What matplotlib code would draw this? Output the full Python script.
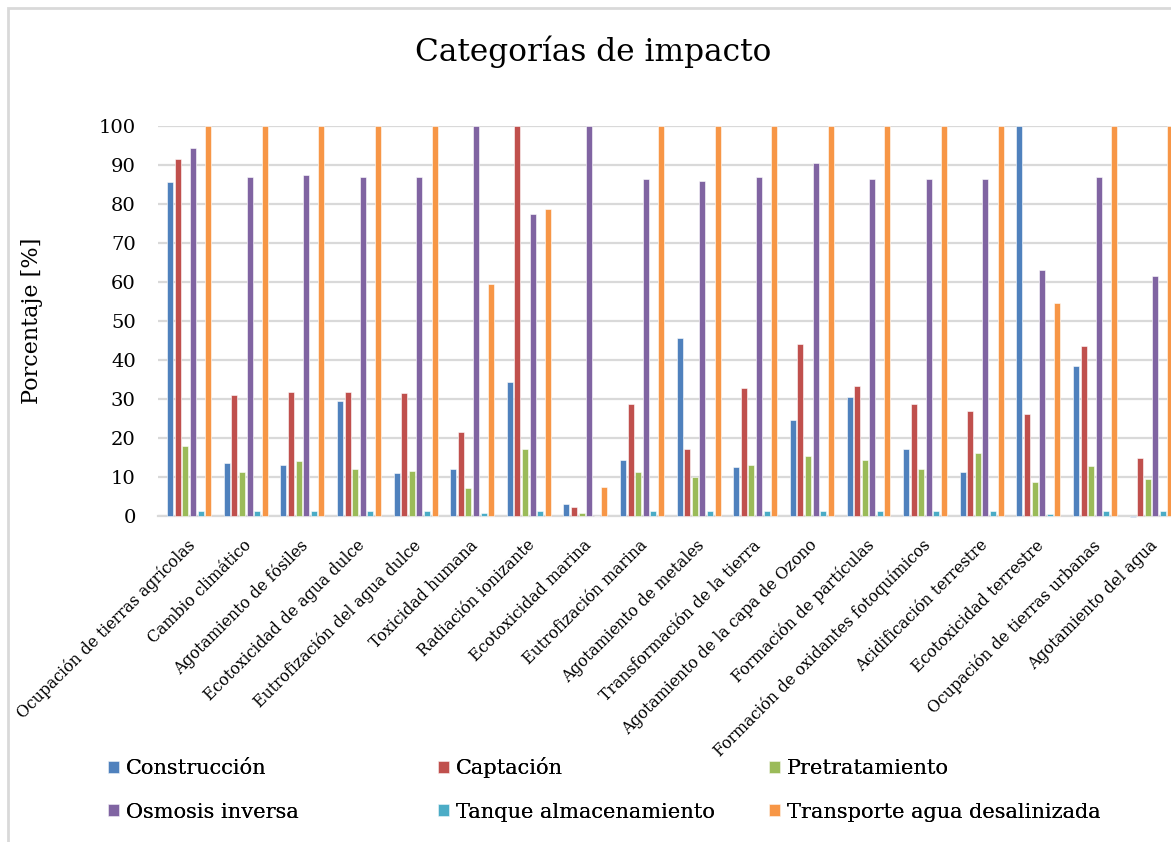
import numpy as np
import matplotlib
matplotlib.use('Agg')
import matplotlib.pyplot as plt
from matplotlib.patches import Rectangle

categorias = ['Ocupación de tierras agrícolas', 'Cambio climático', 'Agotamiento de fósiles',
              'Ecotoxicidad de agua dulce', 'Eutrofización del agua dulce', 'Toxicidad humana',
              'Radiación ionizante', 'Ecotoxicidad marina', 'Eutrofización marina',
              'Agotamiento de metales', 'Transformación de la tierra',
              'Agotamiento de la capa de Ozono', 'Formación de partículas',
              'Formación de oxidantes fotoquímicos', 'Acidificación terrestre',
              'Ecotoxicidad terrestre', 'Ocupación de tierras urbanas', 'Agotamiento del agua']

construccion = [85.6, 13.7, 13.2, 29.6, 11.1, 12.0, 34.4, 3.2, 14.3, 45.7, 12.6, 24.5,
                30.5, 17.3, 11.2, 100, 38.4, -0.3]
captacion = [91.5, 31.1, 31.7, 31.7, 31.5, 21.5, 100, 2.4, 28.6, 17.3, 32.7, 44.0,
             33.4, 28.8, 27.0, 26.2, 43.7, 15.0]
pretratamiento = [17.9, 11.2, 14.1, 12.1, 11.5, 7.1, 17.3, 0.8, 11.2, 9.9, 13.1, 15.3,
                  14.4, 12.1, 16.2, 8.6, 12.9, 9.5]
osmosis = [94.4, 87.0, 87.5, 87.0, 86.8, 100, 77.5, 100, 86.3, 85.9, 86.9, 90.4,
           86.4, 86.5, 86.5, 63.0, 86.8, 61.5]
tanque = [1.4, 1.3, 1.3, 1.3, 1.3, 0.8, 1.2, 0.1, 1.3, 1.3, 1.3, 1.3,
          1.3, 1.3, 1.3, 0.6, 1.3, 1.3]
transporte = [100, 100, 100, 100, 100, 59.6, 78.7, 7.4, 100, 100, 100, 100,
              100, 100, 100, 54.7, 100, 100]

series = ['Construcción', 'Captación', 'Pretratamiento', 'Osmosis inversa',
          'Tanque almacenamiento', 'Transporte agua desalinizada']
valores = [construccion, captacion, pretratamiento, osmosis, tanque, transporte]
colores = ['#4F81BD', '#C0504D', '#9BBB59', '#8064A2', '#4BACC6', '#F79646']

plt.rcParams['font.family'] = ['DejaVu Serif']

fig = plt.figure(figsize=(11.71, 8.42), dpi=100)
ax = fig.add_axes([158/1171, 1-516/842, 1019/1171, 390/842])

x = np.arange(len(categorias))
paso = 0.134
ancho = 0.106
barras = []
for i, (nombre, vals, col) in enumerate(zip(series, valores, colores)):
    b = ax.bar(x + (i - 2.5) * paso + 0.05, vals, width=ancho, color=col,
               edgecolor='white', linewidth=0.4, label=nombre, zorder=3, clip_on=False)
    barras.append(b)

ax.set_xlim(-0.5, len(categorias) - 0.5)
ax.set_ylim(0, 100)
ax.set_yticks(range(0, 101, 10))
ax.yaxis.grid(True, color='#d9d9d9', linewidth=1.6, zorder=0)
ax.set_axisbelow(True)
for s in ['top', 'right', 'left']:
    ax.spines[s].set_visible(False)
ax.spines['bottom'].set_color('#d9d9d9')
ax.spines['bottom'].set_linewidth(1.6)
ax.tick_params(axis='both', length=0)
ax.tick_params(axis='y', labelsize=14, pad=16)
ax.set_xticks(x)
ax.set_xticklabels(categorias, rotation=45, ha='right', rotation_mode='anchor', fontsize=11.3)
ax.tick_params(axis='x', pad=15)
ax.set_ylabel('Porcentaje [%]', fontsize=16, labelpad=40)

fig.text(593/1171, 1-52/842, 'Categorías de impacto', ha='center', va='center', fontsize=22.5)

# marco del área del gráfico
fig.patches.append(Rectangle((8/1171, -0.1), 1.2, 1-8/842+0.1, transform=fig.transFigure,
                             fill=False, edgecolor='#d9d9d9', linewidth=2))

# leyenda: 3 columnas x 2 filas, alineadas por la línea base del texto
col_x = [108/1171, 438/1171, 769/1171]
fila_y = [1-769/842, 1-812/842]
leyendas = []
for k in range(6):
    leg = fig.legend([barras[k]], [series[k]], loc='center left',
                     bbox_to_anchor=(col_x[k % 3], fila_y[k // 3]),
                     frameon=False, fontsize=15, handlelength=0.55, handleheight=0.55,
                     handletextpad=0.3, borderpad=0, borderaxespad=0)
    fig.add_artist(leg)
    leyendas.append(leg)

fig.canvas.draw()
r = fig.canvas.get_renderer()
for fila in range(2):
    grupo = leyendas[fila * 3:fila * 3 + 3]
    ref = grupo[0].get_texts()[0].get_window_extent(r).y0
    for leg in grupo[1:]:
        dy = ref - leg.get_texts()[0].get_window_extent(r).y0
        ax0, ay0 = leg.get_bbox_to_anchor().x0, leg.get_bbox_to_anchor().y0
        fx, fy = fig.transFigure.inverted().transform((ax0, ay0 + dy))
        leg.set_bbox_to_anchor((fx, fy), transform=fig.transFigure)

fig.savefig('out.png', dpi=100)
